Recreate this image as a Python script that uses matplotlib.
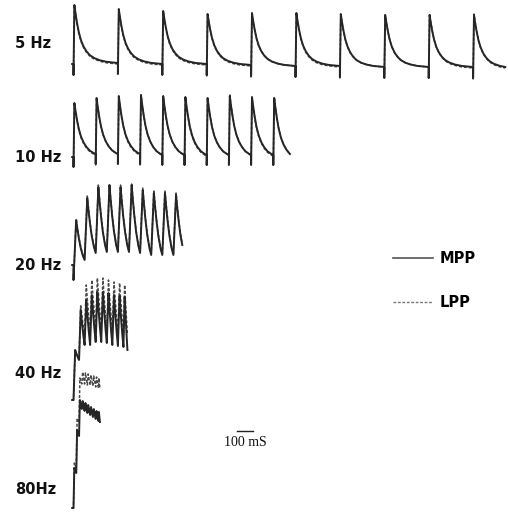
import numpy as np
import matplotlib
matplotlib.use('Agg')
import matplotlib.pyplot as plt
from matplotlib.lines import Line2D

# normalised EPSP decay (ms after peak, fraction of peak)
DECAY_T = [0, 5, 12, 20, 30, 42, 55, 70, 90, 115, 145, 180, 200]
DECAY_V = [1.0, 0.86, 0.69, 0.53, 0.39, 0.28, 0.20, 0.135, 0.085, 0.048, 0.022, 0.007, 0.0]

freqs = ['5 Hz', '10 Hz', '20 Hz', '40 Hz', '80Hz']
intervals = [200, 100, 50, 25, 12.5]          # ms between stimuli
t_ends = [1945, 975, 490, 243, 119]           # ms where each trace stops
rises = [4, 4, 12, 8, 4]                      # ms from stimulus to peak
artifacts = [1.1, 1.0, 1.5, 0.0, 0.0]         # stimulus artefact (mV)

# peak / trough amplitudes (mV above baseline), 10 pulses each;
# troughs hold the level at each stimulus plus the final level
mpp_peak_5 = [5.9, 5.5, 5.3, 5.0, 5.1, 5.1, 5.0, 4.9, 4.9, 4.9]
mpp_trough_5 = [0.0, 0.1, 0.0, 0.0, -0.1, -0.2, -0.2, -0.3, -0.3, -0.3, -0.3]
lpp_peak_5 = [5.8, 5.4, 5.2, 5.0, 5.0, 5.0, 4.9, 4.9, 5.0, 5.0]
lpp_trough_5 = [0.0, 0.0, -0.1, -0.1, -0.2, -0.2, -0.3, -0.3, -0.3, -0.4, -0.4]

mpp_peak_10 = [5.4, 5.9, 6.1, 6.2, 6.1, 6.0, 5.9, 6.1, 6.0, 5.9]
mpp_trough_10 = [0.0, 0.3, 0.3, 0.3, 0.2, 0.2, 0.2, 0.2, 0.2, 0.2, 0.3]
lpp_peak_10 = [5.3, 5.8, 6.0, 6.2, 6.0, 5.9, 5.9, 6.2, 5.9, 6.0]
lpp_trough_10 = [0.0, 0.2, 0.3, 0.2, 0.2, 0.2, 0.1, 0.2, 0.2, 0.1, 0.3]

mpp_peak_20 = [4.5, 6.7, 7.8, 8.0, 7.8, 8.0, 7.5, 7.2, 7.2, 7.0]
mpp_trough_20 = [0.0, 0.5, 1.2, 1.3, 1.3, 1.3, 1.2, 1.0, 1.0, 1.0, 2.0]
lpp_peak_20 = [4.6, 6.9, 8.0, 8.1, 8.0, 8.1, 7.7, 7.4, 7.4, 7.2]
lpp_trough_20 = [0.0, 0.6, 1.3, 1.4, 1.4, 1.4, 1.3, 1.1, 1.1, 1.1, 2.1]

mpp_peak_40 = [5.0, 9.0, 10.0, 10.5, 10.8, 10.8, 10.7, 10.5, 10.4, 10.3]
mpp_trough_40 = [0.0, 4.0, 5.5, 5.5, 5.8, 5.8, 5.7, 5.5, 5.4, 5.3, 5.0]
lpp_peak_40 = [5.0, 9.5, 11.5, 12.0, 12.2, 12.2, 12.0, 11.8, 11.7, 11.5]
lpp_trough_40 = [0.0, 4.0, 6.5, 7.0, 7.2, 7.2, 7.0, 7.0, 6.8, 6.7, 6.5]

mpp_peak_80 = [4.0, 7.8, 10.8, 10.7, 10.5, 10.3, 10.1, 9.9, 9.7, 9.6]
mpp_trough_80 = [0.0, 3.5, 7.2, 9.9, 9.7, 9.5, 9.3, 9.1, 8.9, 8.7, 8.6]
lpp_peak_80 = [4.5, 9.0, 13.0, 13.6, 13.5, 13.4, 13.3, 13.2, 13.1, 13.0]
lpp_trough_80 = [0.0, 4.0, 8.5, 12.4, 12.4, 12.3, 12.3, 12.2, 12.1, 12.0, 11.9]

mpp = [(mpp_peak_5, mpp_trough_5), (mpp_peak_10, mpp_trough_10), (mpp_peak_20, mpp_trough_20),
       (mpp_peak_40, mpp_trough_40), (mpp_peak_80, mpp_trough_80)]
lpp = [(lpp_peak_5, lpp_trough_5), (lpp_peak_10, lpp_trough_10), (lpp_peak_20, lpp_trough_20),
       (lpp_peak_40, lpp_trough_40), (lpp_peak_80, lpp_trough_80)]


def build_trace(interval, peaks, troughs, t_end, art, every, rise):
    stims = interval * np.arange(len(peaks))
    t = [stims[0] - 6]
    v = [troughs[0]]
    for i, s in enumerate(stims):
        nxt = stims[i + 1] if i + 1 < len(stims) else t_end
        r = min(rise, 0.3 * (nxt - s))
        t.append(s); v.append(troughs[i])
        if art and (every or i == 0):
            t.append(s); v.append(troughs[i] - art)
        t.append(s + r); v.append(peaks[i])
        span = nxt - s - r
        vend = np.interp(span, DECAY_T, DECAY_V)
        e = troughs[i + 1]
        for dt, dv in zip(DECAY_T[1:], DECAY_V[1:]):
            if dt >= span:
                break
            w = (dv - vend) / (1 - vend)
            t.append(s + r + dt); v.append(e + (peaks[i] - e) * w)
        t.append(nxt); v.append(e)
    return np.array(t), np.array(v)


# layout: x in ms, y in mV with each row shifted down
px_per_ms = 0.222
x0 = 73.5
baselines = [-6.4, -15.7, -26.5, -40.0, -50.8]
label_y = [-4.3, -15.7, -26.5, -37.3, -49.0]

fig = plt.figure(figsize=(5.08, 5.12), dpi=100)
ax = fig.add_axes([0, 0, 1, 1])
ax.set_xlim(-x0 / px_per_ms, (508 - x0) / px_per_ms)
ax.set_ylim(-51.2, 0)
ax.axis('off')

trace_col = '#262626'
for k in range(len(freqs)):
    every = k < 2
    tm, vm = build_trace(intervals[k], mpp[k][0], mpp[k][1], t_ends[k], artifacts[k], every, rises[k])
    tl, vl = build_trace(intervals[k], lpp[k][0], lpp[k][1], t_ends[k], artifacts[k], every, rises[k])
    ax.plot(tl, vl + baselines[k], color='#4a4a4a', lw=1.1, linestyle=(0, (2, 1.2)))
    ax.plot(tm, vm + baselines[k], color=trace_col, lw=1.4, solid_joinstyle='round')
    ax.text(-x0 / px_per_ms + 15 / px_per_ms, label_y[k], freqs[k], fontsize=10.5,
            fontweight='bold', ha='left', va='center', color='#111111')

# scale bar
bar_start = (237 - x0) / px_per_ms
bar_len = 72
ax.plot([bar_start, bar_start + bar_len], [-43.1, -43.1], color='#222222', lw=1.0)
ax.text(bar_start + bar_len / 2, -44.3, '100 mS', fontsize=10, family='Liberation Serif',
        ha='center', va='center', color='#111111')

handles = [Line2D([], [], color='#555555', lw=1.2),
           Line2D([], [], color='#777777', lw=1.0, linestyle=(0, (2, 1.2)))]
leg = ax.legend(handles, ['MPP', 'LPP'], loc='upper left', bbox_to_anchor=(0.774, 0.51),
                frameon=False, handlelength=2.7, handletextpad=0.45, labelspacing=2.0,
                borderpad=0, borderaxespad=0, prop={'weight': 'bold', 'size': 10.5})

fig.savefig('out.png', dpi=100, facecolor='white')
